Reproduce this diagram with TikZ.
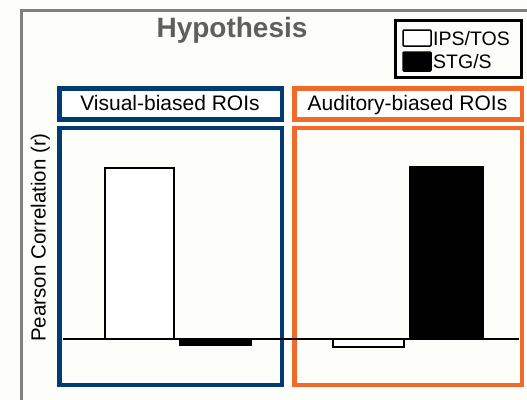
\documentclass[tikz,border=0pt]{standalone}
\usepackage{fontspec}
\setmainfont{Liberation Sans}
\definecolor{bgpaper}{RGB}{253,253,250}
\definecolor{roiblue}{RGB}{0,60,113}
\definecolor{roiorange}{RGB}{242,106,42}
\definecolor{framegray}{RGB}{128,128,128}
\definecolor{titlegray}{RGB}{95,95,95}
\tikzset{
  roibox/.style={line width=4.5pt},
  barbox/.style={draw=black, line width=1.8pt},
  swatch/.style={draw=black, line width=1.5pt, rounded corners=1pt},
  txt/.style={inner sep=0pt, anchor=base, font=\fontsize{21}{24}\selectfont},
}
\begin{document}
\begin{tikzpicture}[x=1pt, y=-1pt]
  \useasboundingbox (0,0) rectangle (527,399);
  \clip (0,0) rectangle (527,399);
  \fill[bgpaper] (0,0) rectangle (527,399);

  % outer panel frame
  \draw[framegray, line width=3.5pt] (21.3,10.3) rectangle (560,430);

  % title
  \node[txt, font=\fontsize{28}{32}\selectfont\bfseries, text=titlegray] (title) at (232,37) {Hypothesis};

  % legend
  \draw[black, line width=3pt] (395.5,20.5) rectangle (521.5,77.5);
  \draw[swatch, fill=white] (403,30) rectangle (431,46);
  \draw[swatch, fill=black] (403,52) rectangle (431,71);
  \node[txt, anchor=base west, font=\fontsize{19.5}{22}\selectfont] (legA) at (433,45) {IPS/TOS};
  \node[txt, anchor=base west, font=\fontsize{19.5}{22}\selectfont] (legB) at (433,68) {STG/S};

  % ROI group headers
  \draw[roibox, roiblue, fill=white] (59.25,88.25) rectangle (281.75,119.5);
  \draw[roibox, roiorange, fill=white] (294.25,88.25) rectangle (521.75,119.5);
  \node[txt] (visLabel) at (170,110) {Visual-biased ROIs};
  \node[txt] (audLabel) at (407.5,110) {Auditory-biased ROIs};

  % ROI panels
  \draw[roibox, roiblue] (59.25,128) rectangle (281.75,384.75);
  \draw[roibox, roiorange] (294.25,128) rectangle (521.75,384.75);

  % bars
  \draw[barbox, fill=white] (105,168) rectangle (174,339);
  \draw[barbox, fill=black] (180,339) rectangle (251,345.5);
  \draw[barbox, fill=white] (333,339) rectangle (404,347);
  \draw[barbox, fill=black] (410,167) rectangle (483,339);

  % zero line
  \draw[black, line width=2pt] (63,339) -- (519,339);

  % y-axis label
  \node[txt, rotate=90] (ylabel) at (45.5,237.5) {\fontsize{20.5}{24}\selectfont Pearson Correlation (r)};
\end{tikzpicture}
\end{document}
